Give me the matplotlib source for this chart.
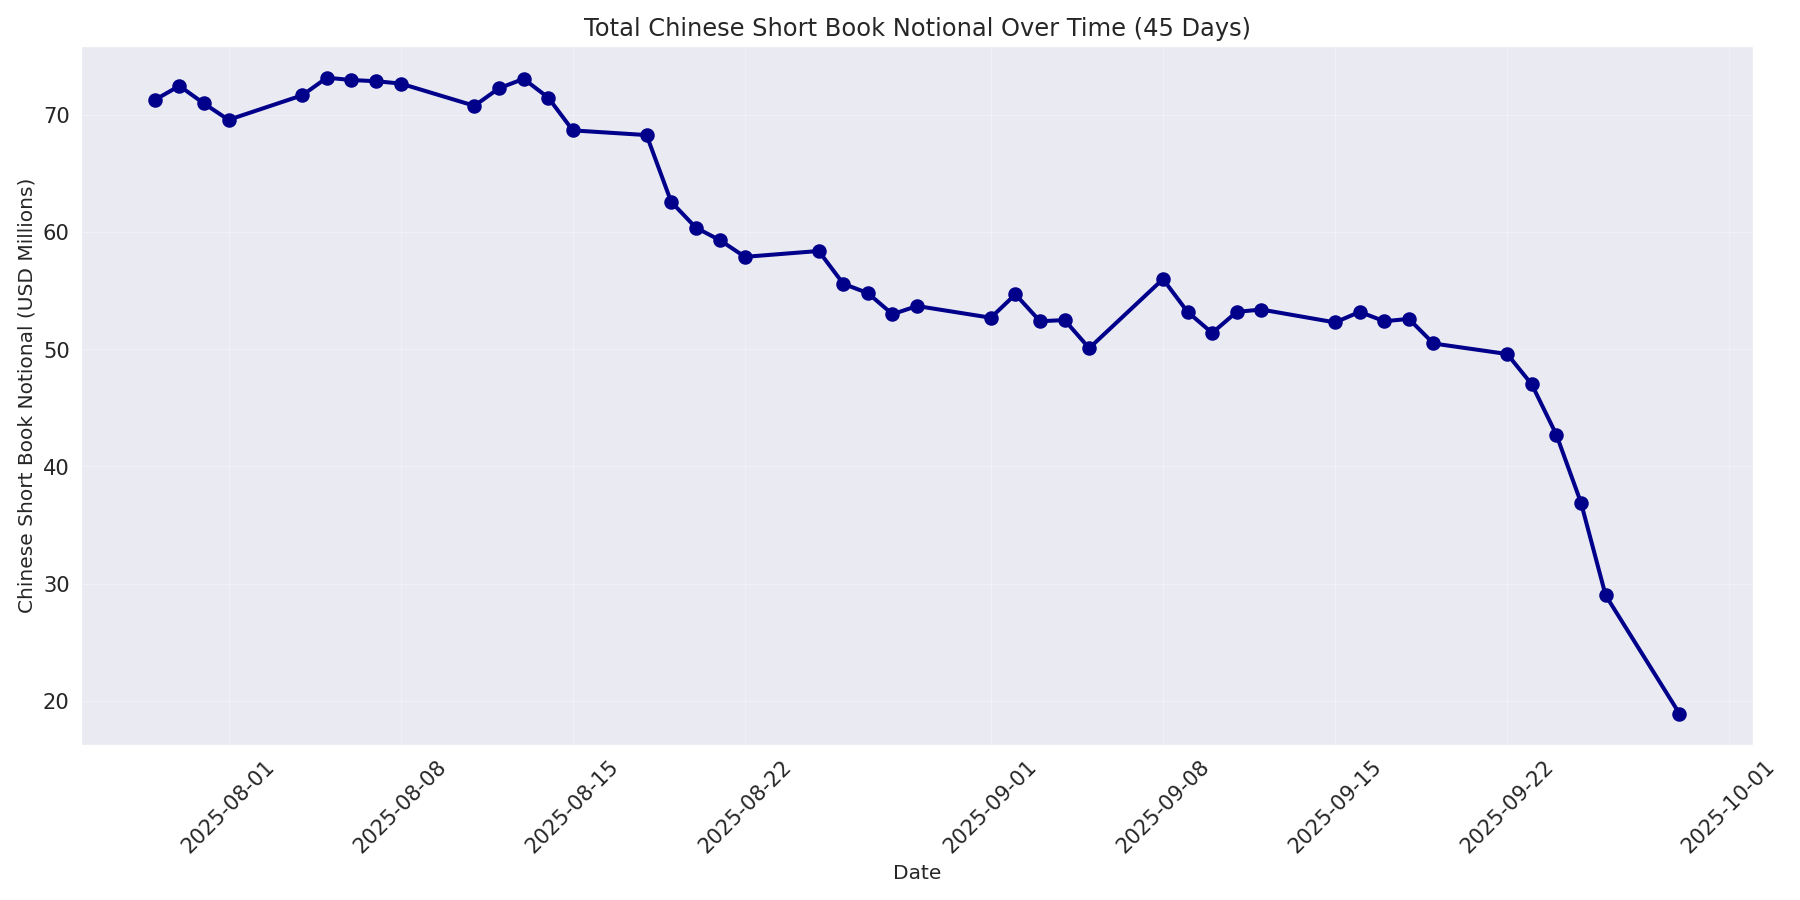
import matplotlib
matplotlib.use("Agg")
import matplotlib.pyplot as plt
import matplotlib.dates as mdates
import seaborn as sns
import pandas as pd

dates = ["2025-07-29","2025-07-30","2025-07-31","2025-08-01","2025-08-04","2025-08-05","2025-08-06","2025-08-07","2025-08-08",
         "2025-08-11","2025-08-12","2025-08-13","2025-08-14","2025-08-15","2025-08-18","2025-08-19","2025-08-20","2025-08-21","2025-08-22",
         "2025-08-25","2025-08-26","2025-08-27","2025-08-28","2025-08-29","2025-09-01","2025-09-02","2025-09-03","2025-09-04","2025-09-05",
         "2025-09-08","2025-09-09","2025-09-10","2025-09-11","2025-09-12","2025-09-15","2025-09-16","2025-09-17","2025-09-18","2025-09-19",
         "2025-09-22","2025-09-23","2025-09-24","2025-09-25","2025-09-26","2025-09-29"]
values = [71.3,72.5,71.0,69.6,71.7,73.2,73.0,72.9,72.7,70.8,72.3,73.1,71.5,68.7,68.3,62.6,60.4,59.3,57.9,58.4,55.6,54.8,53.0,53.7,
          52.7,54.7,52.4,52.5,50.1,56.0,53.2,51.4,53.2,53.4,52.3,53.2,52.4,52.6,50.5,49.6,47.0,42.7,36.9,29.0,18.9]

sns.set_style("darkgrid")
plt.rcParams['font.family'] = ['DejaVu Sans']
fig, ax = plt.subplots(figsize=(15.52, 7.76), dpi=116)
x = pd.to_datetime(dates)
ax.plot(x, values, color="darkblue", linewidth=2.5, marker="o", markersize=8)
ax.set_title("Total Chinese Short Book Notional Over Time (45 Days)", fontsize=15)
ax.set_xlabel("Date", fontsize=12.5)
ax.set_ylabel("Chinese Short Book Notional (USD Millions)", fontsize=12.5)
ax.xaxis.set_major_locator(mdates.DayLocator(bymonthday=[1, 8, 15, 22]))
ax.xaxis.set_major_formatter(mdates.DateFormatter("%Y-%m-%d"))
ax.set_xlim(pd.Timestamp("2025-07-26"), pd.Timestamp("2025-10-02"))
ax.grid(True, alpha=0.3)
plt.setp(ax.get_xticklabels(), rotation=45, fontsize=13)
plt.setp(ax.get_yticklabels(), fontsize=13)
fig.tight_layout()
fig.savefig("out.png")
